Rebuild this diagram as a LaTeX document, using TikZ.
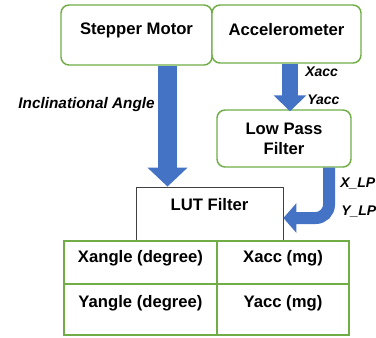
\documentclass[tikz,border=0pt]{standalone}
\usepackage{fontspec}
\setmainfont{Liberation Sans}
\usetikzlibrary{positioning, shapes, arrows.meta}

\definecolor{boxgreen}{HTML}{70AD47}
\definecolor{flowblue}{HTML}{4472C4}
\definecolor{flowedge}{HTML}{2F528F}

\tikzset{
    block/.style={rectangle, rounded corners=6pt, draw=boxgreen, line width=1.1pt, fill=white, align=center, font=\fontsize{12.5}{15}\selectfont\bfseries},
    cell/.style={rectangle, draw=boxgreen, line width=1.1pt, align=center, font=\fontsize{12.5}{15}\selectfont\bfseries},
    tag/.style={font=\fontsize{10.5}{12}\selectfont\bfseries\itshape, inner sep=0pt},
    fatarrow/.style={draw=flowblue, line width=#1}
}

\begin{document}
\begin{tikzpicture}[x=0.75pt, y=-0.75pt]
    \useasboundingbox (0,0) rectangle (376,337);

    % sources
    \node[block, minimum width=113.25pt, minimum height=45pt, text depth=9pt] (stepper) at (136.5,35) {Stepper Motor};
    \node[block, minimum width=111.75pt, minimum height=43.5pt, text depth=7pt] (accel) at (286.5,34) {Accelerometer};
    \node[block, minimum width=100.5pt, minimum height=42.75pt] (lpf) at (284,138.5) {Low Pass\\Filter};

    % lookup table
    \node[rectangle, draw=black!75, line width=0.6pt, minimum width=110.25pt, minimum height=40.5pt, text depth=15pt, font=\fontsize{12.5}{15}\selectfont\bfseries] (lut) at (209.5,214) {LUT Filter};
    \node[cell, minimum width=114.75pt, minimum height=32.25pt, text depth=9pt] (xangle) at (140.5,262.5) {Xangle (degree)};
    \node[cell, minimum width=99pt, minimum height=32.25pt, text depth=9pt] (xacc) at (283,262.5) {Xacc (mg)};
    \node[cell, minimum width=114.75pt, minimum height=38.25pt, text depth=12pt] (yangle) at (140.5,309.5) {Yangle (degree)};
    \node[cell, minimum width=99pt, minimum height=38.25pt, text depth=12pt] (yacc) at (283,309.5) {Yacc (mg)};

    % block arrows
    \coordinate (angle) at (167.5,0);
    \coordinate (accx) at (290,0);
    \coordinate (bend) at (329,218);
    \draw[fatarrow=14.25pt, -{Triangle[width=29.25pt, length=14.25pt]}] (stepper.south -| angle) -- (lut.north -| angle);
    \draw[fatarrow=12pt, -{Triangle[width=24pt, length=12pt]}] (accel.south -| accx) -- ([yshift=-1.5pt]lpf.north -| accx);
    \draw[fatarrow=9pt, rounded corners=10pt, -{Triangle[width=21.75pt, length=9.75pt]}] (lpf.south -| bend) -- (bend) -- (lut.east |- bend);

    % signal names
    \node[tag, font=\fontsize{11.5}{13}\selectfont\bfseries\itshape, anchor=east] (incl) at (155,105) {Inclinational Angle};
    \node[tag, anchor=west] (xin) at (305,72) {Xacc};
    \node[tag, anchor=west] (yin) at (307,100) {Yacc};
    \node[tag, anchor=west] (xlp) at (340,184) {X\_LP};
    \node[tag, anchor=west] (ylp) at (341,212) {Y\_LP};
\end{tikzpicture}
\end{document}
